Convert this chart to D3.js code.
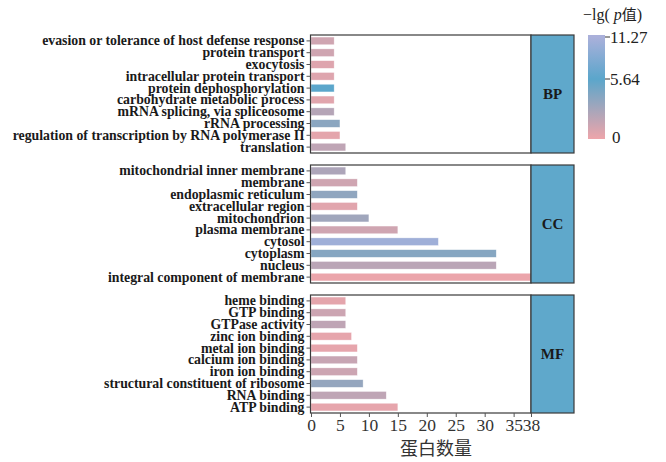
<!DOCTYPE html>
<html><head><meta charset="utf-8">
<script src="https://cdn.jsdelivr.net/npm/d3@7"></script>
<style>body{margin:0;background:#fff}svg{display:block}</style>
</head><body><div id="chart"></div>
<script>
const groups = ["BP","CC","MF"];
const bpTerms = ["evasion or tolerance of host defense response","protein transport","exocytosis","intracellular protein transport","protein dephosphorylation","carbohydrate metabolic process","mRNA splicing, via spliceosome","rRNA processing","regulation of transcription by RNA polymerase II","translation"];
const bpCounts = [4,4,4,4,4,4,4,5,5,6];
const bpLgP = [1.2,1.2,0.6,0.6,5.64,0.5,2.2,3.8,0.4,1.8];
const ccTerms = ["mitochondrial inner membrane","membrane","endoplasmic reticulum","extracellular region","mitochondrion","plasma membrane","cytosol","cytoplasm","nucleus","integral component of membrane"];
const ccCounts = [6,8,8,8,10,15,22,32,32,38];
const ccLgP = [2.5,1.2,3.6,0.5,3.0,1.2,10.5,4.0,2.0,0.1];
const mfTerms = ["heme binding","GTP binding","GTPase activity","zinc ion binding","metal ion binding","calcium ion binding","iron ion binding","structural constituent of ribosome","RNA binding","ATP binding"];
const mfCounts = [6,6,6,7,8,8,8,9,13,15];
const mfLgP = [0.4,1.3,1.8,0.3,0.3,1.5,1.3,3.4,1.8,0.3];
const xTicks = [0,5,10,15,20,25,30,35,38];
const legendTicks = [11.27,5.64,0];
const xTitle = "蛋白数量";

const panels = [
  {g:"BP", terms:bpTerms, counts:bpCounts, lgp:bpLgP},
  {g:"CC", terms:ccTerms, counts:ccCounts, lgp:ccLgP},
  {g:"MF", terms:mfTerms, counts:mfCounts, lgp:mfLgP}
];

const W=666,H=462;
const svg=d3.select("#chart").append("svg").attr("width",W).attr("height",H);
const serif="'Liberation Serif','Times New Roman',serif";

const x=d3.scaleLinear().domain([0,38]).range([311,531]);
const color=d3.scaleLinear().domain([0,5.64,11.27]).range(["#eea5aa","#5ba6cb","#aab0da"]);
const panelTop=[35,165,295], panelH=118;
const stripX0=531, stripX1=574;

panels.forEach((p,i)=>{
  const y=d3.scaleBand().domain(p.terms).range([panelTop[i],panelTop[i]+panelH]).paddingInner(0.35).paddingOuter(0.175);
  const g=svg.append("g");
  g.append("rect").attr("x",x(0)-0.5).attr("y",panelTop[i]).attr("width",x(38)-x(0)+0.5).attr("height",panelH).attr("fill","#fff");
  g.selectAll("rect.bar").data(p.terms).enter().append("rect").attr("class","bar")
    .attr("x",x(0)).attr("y",d=>y(d)).attr("height",y.bandwidth())
    .attr("width",(d,j)=>x(p.counts[j])-x(0))
    .attr("fill",(d,j)=>color(p.lgp[j])).attr("stroke","#fff").attr("stroke-opacity",0.6).attr("stroke-width",0.6);
  const ax=d3.axisLeft(y).tickSize(4).tickPadding(2);
  const ag=svg.append("g").attr("transform",`translate(${x(0)-0.5},0)`).call(ax);
  ag.select(".domain").remove();
  ag.selectAll(".tick line").attr("stroke","#555");
  ag.selectAll("text").attr("font-family",serif).attr("font-weight","bold").attr("font-size","13.8px").attr("fill","#1a1a1a");
  g.append("rect").attr("x",x(0)-0.5).attr("y",panelTop[i]).attr("width",x(38)-x(0)+0.5).attr("height",panelH)
    .attr("fill","none").attr("stroke","#3a3a3a").attr("stroke-width",1.2);
  g.append("rect").attr("x",stripX0).attr("y",panelTop[i]).attr("width",stripX1-stripX0).attr("height",panelH)
    .attr("fill","#5fa8cb").attr("stroke","#3a3a3a").attr("stroke-width",1.2);
  g.append("text").attr("x",(stripX0+stripX1)/2).attr("y",panelTop[i]+panelH/2).attr("dy","0.35em")
    .attr("text-anchor","middle").attr("font-family",serif).attr("font-weight","bold").attr("font-size","15px").attr("fill","#1a1a1a").text(p.g);
});

const xa=svg.append("g").attr("transform",`translate(0,${panelTop[2]+panelH})`).call(d3.axisBottom(x).tickValues(xTicks).tickSize(4).tickPadding(2));
xa.select(".domain").remove();
xa.selectAll(".tick line").attr("stroke","#555");
xa.selectAll("text").attr("font-family",serif).attr("font-size","17.5px").attr("fill","#333");
svg.append("text").attr("x",436).attr("y",455).attr("text-anchor","middle").attr("font-family","'Noto Sans CJK SC',sans-serif").attr("font-size","18px").attr("fill","#333").text(xTitle);

// legend
const ly=d3.scaleLinear().domain([0,5.64,11.27]).range([139,79,37]);
const defs=svg.append("defs");
const grad=defs.append("linearGradient").attr("id","lg").attr("x1",0).attr("y1",1).attr("x2",0).attr("y2",0);
const lTop=35,lBot=139;
[0,1.5,3,4.5,5.64,7,8.5,10,11.27].forEach(v=>{
  grad.append("stop").attr("offset",(lBot-ly(v))/(lBot-lTop)).attr("stop-color",color(v));
});
grad.append("stop").attr("offset",1).attr("stop-color",color(11.27));
svg.append("rect").attr("x",588).attr("y",lTop).attr("width",17).attr("height",lBot-lTop).attr("fill","url(#lg)");
legendTicks.forEach(v=>{
  if(v>0) svg.append("line").attr("x1",605).attr("x2",610).attr("y1",ly(v)).attr("y2",ly(v)).attr("stroke","#333");
  svg.append("text").attr("x",v>0?610:612).attr("y",v>0?ly(v):137).attr("dy","0.35em").attr("font-family",serif).attr("font-size","17px").attr("fill","#222").text(v===0?"0":v.toFixed(2));
});
const lt=svg.append("text").attr("x",583).attr("y",20).attr("font-family",serif).attr("font-size","16px").attr("fill","#222");
lt.append("tspan").text("−lg( ");
lt.append("tspan").attr("font-style","italic").text("p");
lt.append("tspan").attr("font-family","'Noto Sans CJK SC',sans-serif").attr("font-size","15px").text("值");
lt.append("tspan").text(")");
</script></body></html>
